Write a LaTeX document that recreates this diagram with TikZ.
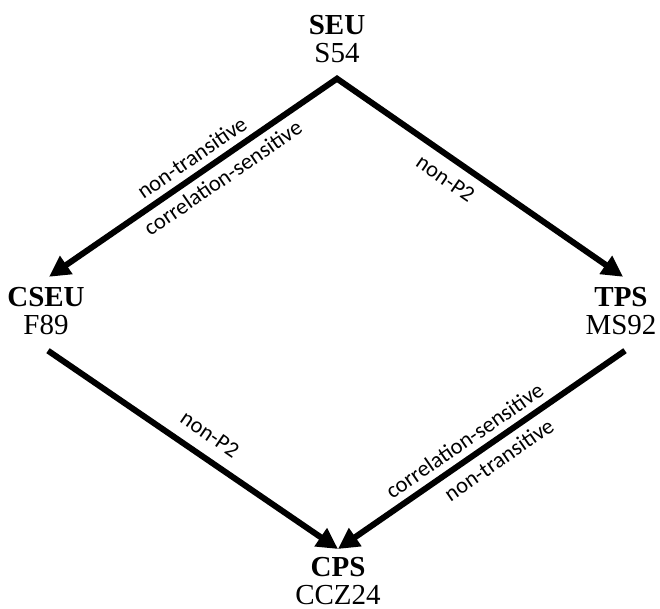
\documentclass[tikz,border=0pt]{standalone}
\usepackage{fontspec}
\setmainfont{Liberation Serif}
\newfontfamily\lblfont{Carlito}
\usetikzlibrary{arrows.meta}
\tikzset{arrhead/.tip={Triangle[length=21pt,width=21pt]}}
\begin{document}
\begin{tikzpicture}[x=1pt,y=-1pt,
  thm/.style={align=center,inner sep=0pt,anchor=north,font=\fontsize{29}{28.5}\selectfont},
  arr/.style={line width=6pt,line join=miter},
  lbl/.style={font=\lblfont\fontsize{22.5}{22.5}\selectfont,sloped,inner sep=0pt}]
\useasboundingbox (0,0) rectangle (660,608);
\node[thm] (seu) at (337,14.8) {\textbf{SEU}\\S54};
\node[thm] (cseu) at (46,286.8) {\textbf{CSEU}\\F89};
\node[thm] (tps) at (621,286.8) {\textbf{TPS}\\MS92};
\node[thm] (cps) at (338,557) {\textbf{CPS}\\CCZ24};
\draw[arr,arrhead-arrhead] ([shift={(3,-10)}]cseu.north)
   -- node[lbl,pos=0.53,above=6.5pt]{non-transitive}
      node[lbl,pos=0.57,below=6pt]{correlation-sensitive}
   ([shift={(0,15.5)}]seu.south)
   -- node[lbl,pos=0.42,below=10pt]{non-P2}
   ([shift={(2,-10)}]tps.north);
\draw[arr,-arrhead] ([shift={(2,15.5)}]cseu.south) -- node[lbl,pos=0.515,above=12pt]{non-P2} ([shift={(0,-8)}]cps.north);
\draw[arr,-arrhead] ([shift={(4,15.5)}]tps.south) -- node[lbl,pos=0.525,above=6.5pt]{correlation-sensitive}
   node[lbl,pos=0.475,below=7pt]{non-transitive} ([shift={(0,-8)}]cps.north);
\end{tikzpicture}
\end{document}
